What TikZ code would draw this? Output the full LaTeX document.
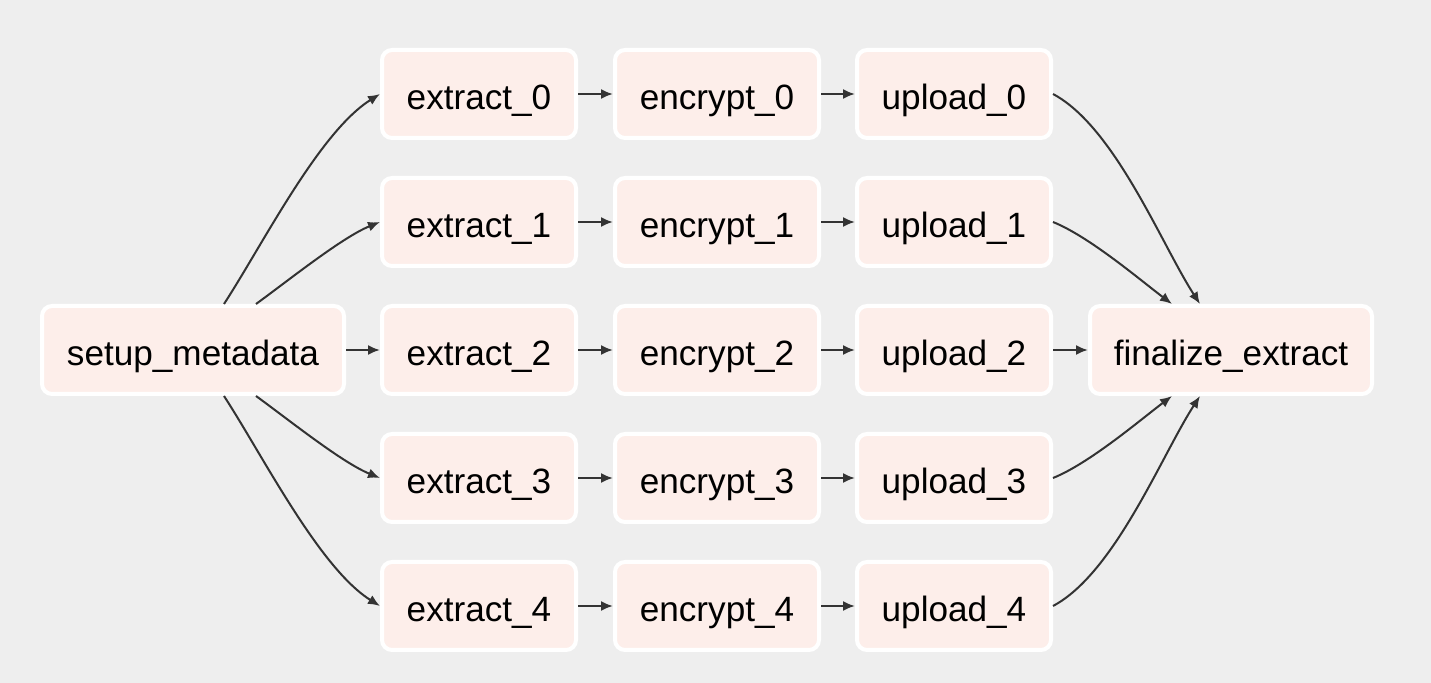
\documentclass[tikz,border=0pt]{standalone}
\usepackage{fontspec}
\setmainfont{Liberation Sans}
\usepackage{xcolor}
\usepackage{tikz}
\usetikzlibrary{arrows.meta}

\definecolor{bgcol}{HTML}{EEEEEE}
\definecolor{taskfill}{HTML}{FDEEEA}
\definecolor{linkcol}{HTML}{333333}

\begin{document}
\begin{tikzpicture}
			\tikzstyle{every node}=[font=\fontsize{20}{24}\selectfont];
			\tikzstyle{task}=[draw=white, fill=taskfill, line width=0.08cm, rounded corners=0.2cm, minimum height=1.76cm, inner sep=0pt, text height=17.6pt, text depth=0pt];
			\tikzstyle{link}=[-{Latex[length=0.24cm, width=0.2cm]}, draw=linkcol, line width=0.04cm];
			
			%Background
			\fill[bgcol] (0, 0) rectangle (28.62, -13.66);
			\useasboundingbox (0, 0) rectangle (28.62, -13.66);
			
			%Start and end
			\node[task, minimum width=6.04cm] (setup) at (3.86, -7.00) {setup\_metadata};
			\node[task, minimum width=5.64cm] (final) at (24.62, -7.00) {finalize\_extract};
			
			%Rows
			\foreach \i in {0,...,4} {
				\node[task, minimum width=3.88cm] (extract\i) at (9.58, -1.88-2.56*\i) {extract\_\i};
				\node[task, minimum width=4.08cm] (encrypt\i) at (14.34, -1.88-2.56*\i) {encrypt\_\i};
				\node[task, minimum width=3.88cm] (upload\i) at (19.08, -1.88-2.56*\i) {upload\_\i};
				\draw[link] (extract\i) -- (encrypt\i);
				\draw[link] (encrypt\i) -- (upload\i);
			}
			
			%Lines out of setup_metadata
			\draw[link] ([xshift=0.62cm]setup.north) to[out=57, in=212, looseness=0.7] (extract0.west);
			\draw[link] ([xshift=1.26cm]setup.north) to[out=36, in=202, looseness=0.7] (extract1.west);
			\draw[link] (setup) -- (extract2);
			\draw[link] ([xshift=1.26cm]setup.south) to[out=-36, in=158, looseness=0.7] (extract3.west);
			\draw[link] ([xshift=0.62cm]setup.south) to[out=-57, in=148, looseness=0.7] (extract4.west);
			
			%Lines into finalize_extract
			\draw[link] (upload0.east) to[out=-28, in=123, looseness=0.7] ([xshift=-0.62cm]final.north);
			\draw[link] (upload1.east) to[out=-22, in=143, looseness=0.7] ([xshift=-1.18cm]final.north);
			\draw[link] (upload2) -- (final);
			\draw[link] (upload3.east) to[out=22, in=-143, looseness=0.7] ([xshift=-1.18cm]final.south);
			\draw[link] (upload4.east) to[out=28, in=-123, looseness=0.7] ([xshift=-0.62cm]final.south);
			\end{tikzpicture}
\end{document}
